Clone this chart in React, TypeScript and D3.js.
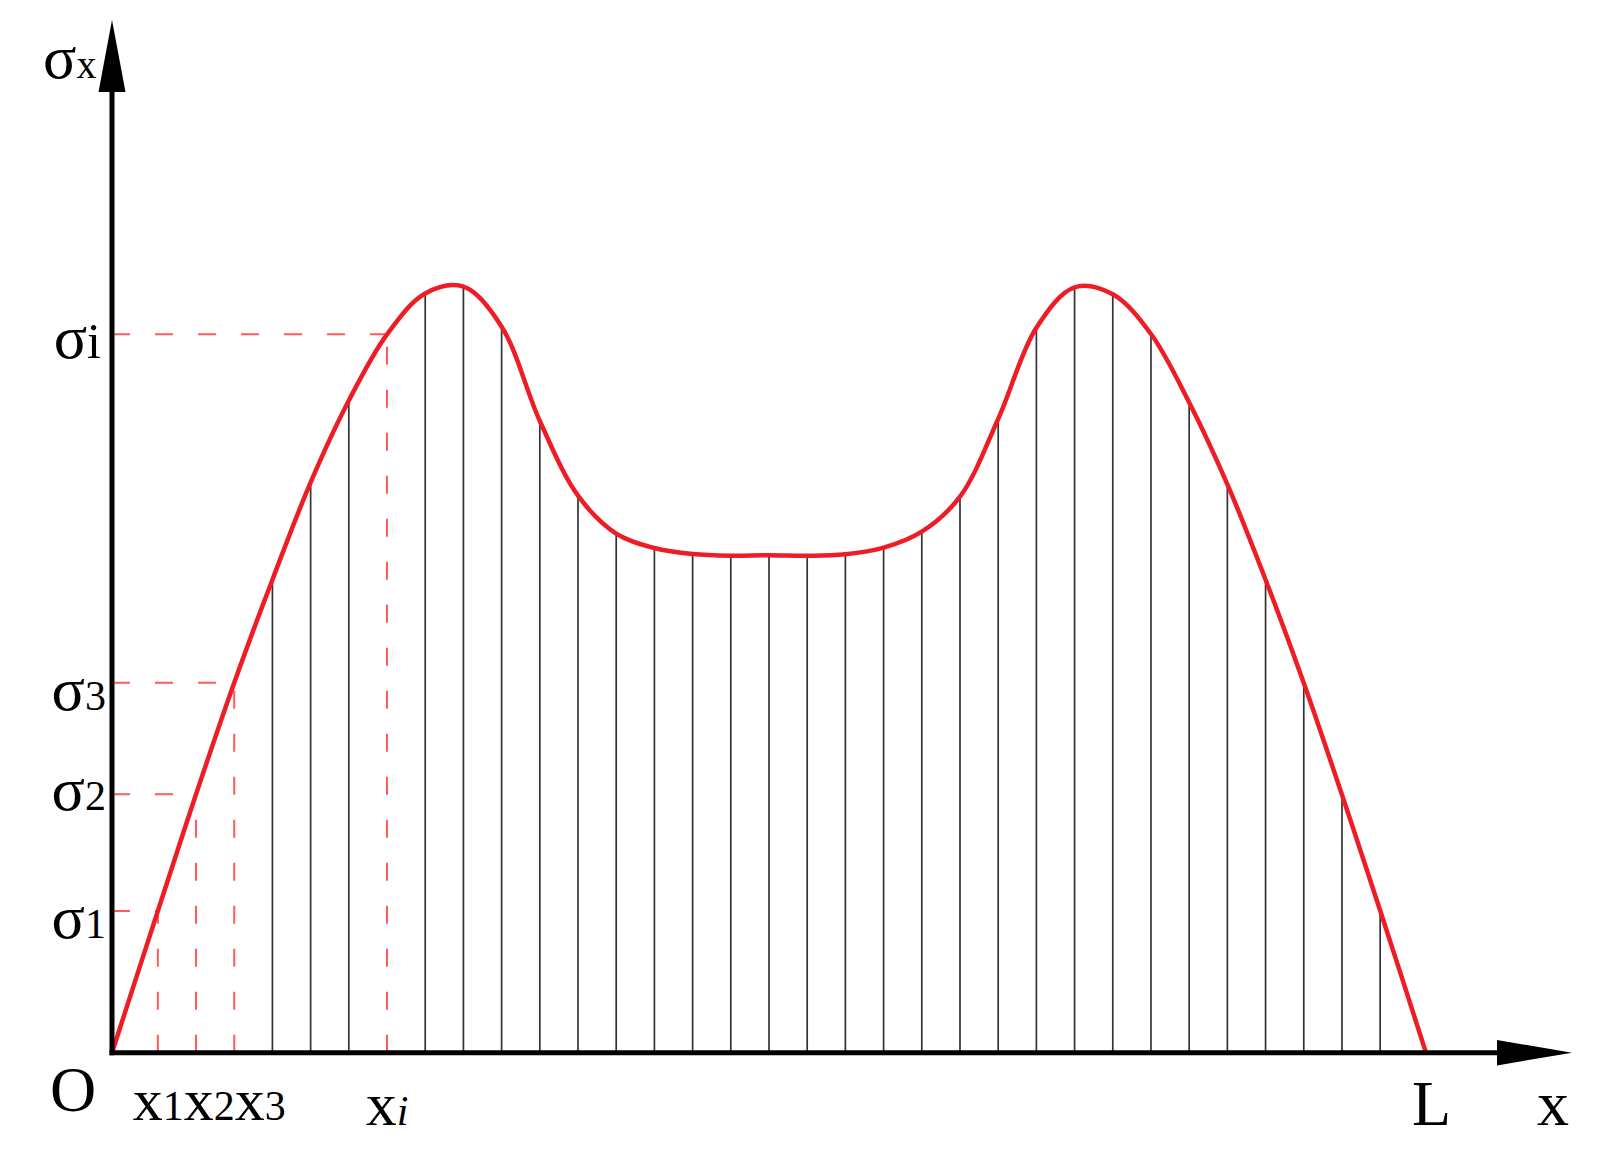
import React from 'react';
import * as d3 from 'd3';

// Domain: x in units of the division spacing, 0 = O, L = end of beam
const L = 34.4;
const stations = [
  1.2, 2.2, 3.2, 4.2, 5.2, 6.2, 7.2, 8.2, 9.2, 10.2, 11.2, 12.2, 13.2, 14.2, 15.2, 16.2, 17.2,
  18.2, 19.2, 20.2, 21.2, 22.2, 23.2, 24.2, 25.2, 26.2, 27.2, 28.2, 29.2, 30.2, 31.2, 32.2, 33.2,
];
const stressValues = [
  14.17, 25.84, 37.0, 47.3, 57.03, 65.22, 71.84, 75.92, 76.6, 72.6, 63.17, 55.7, 51.91, 50.47,
  49.87, 49.7, 49.75, 49.7, 49.84, 50.5, 52.1, 55.6, 63.37, 72.5, 76.54, 75.84, 71.87, 65.02,
  56.83, 47.3, 36.97, 25.79, 14.22,
];
// marked stations (index into stations) and their subscripts
const markedIndex = [0, 1, 2, 6];
const markedSubs = ['1', '2', '3', 'i'];
const yMax = 103.27;

const W = 1606;
const H = 1163;
const FONT = '"Liberation Serif", "Times New Roman", serif';
const RED = '#ee1c25';
const DASH_RED = '#ff5a5a';

// small nudges for the σ labels
const sigmaLabelDy = [27, 16, 27, 24];
const sigmaLabelDx = [0, 0, 0, -5];
const sigmaSubSize = [42, 42, 42, 50];

export default function App() {
  const x = d3.scaleLinear().domain([0, L]).range([112, 1426]);
  const y = d3.scaleLinear().domain([0, yMax]).range([1052.7, 20]);

  const pts: [number, number][] = [[0, 0], ...stations.map((s, i) => [s, stressValues[i]] as [number, number]), [L, 0]];
  const line = d3
    .line<[number, number]>()
    .x((d) => x(d[0]))
    .y((d) => y(d[1]))
    .curve(d3.curveCatmullRom.alpha(0.5));

  const x0 = x(0);
  const y0 = y(0);
  const axisEndX = 1497;
  const axisTopY = 92;

  const blackIdx = stations.map((_, i) => i).filter((i) => !markedIndex.includes(i));

  return (
    <svg
      width={W}
      height={H}
      viewBox={`0 0 ${W} ${H}`}
      style={{ position: 'absolute', left: 0, top: 0, background: '#fff' }}
    >
      <rect x={0} y={0} width={W} height={H} fill="#fff" />
      {/* division lines */}
      {blackIdx.map((i) => (
        <line
          key={'v' + i}
          x1={x(stations[i])}
          x2={x(stations[i])}
          y1={y0}
          y2={y(stressValues[i])}
          stroke="#333"
          strokeWidth={1.7}
        />
      ))}
      {/* red dashed guides */}
      {markedIndex.map((i) => (
        <g key={'d' + i}>
          <line
            x1={x(stations[i])}
            x2={x(stations[i])}
            y1={y0}
            y2={y(stressValues[i])}
            stroke={DASH_RED}
            strokeWidth={2}
            strokeDasharray="18 25"
          />
          <line
            x1={x0}
            x2={x(stations[i])}
            y1={y(stressValues[i])}
            y2={y(stressValues[i])}
            stroke={DASH_RED}
            strokeWidth={2}
            strokeDasharray="18 25"
          />
        </g>
      ))}
      {/* curve */}
      <path d={line(pts) || ''} fill="none" stroke={RED} strokeWidth={4.5} strokeLinejoin="round" />
      {/* axes */}
      <line x1={x0} x2={x0} y1={y0 + 2.5} y2={axisTopY} stroke="#000" strokeWidth={5} />
      <line x1={x0 - 2.5} x2={axisEndX} y1={y0} y2={y0} stroke="#000" strokeWidth={5} />
      <path d={`M${x0},20 L${x0 - 13.5},${axisTopY} L${x0 + 13.5},${axisTopY} Z`} fill="#000" />
      <path d={`M1572,${y0} L${axisEndX},${y0 - 12.7} L${axisEndX},${y0 + 12.7} Z`} fill="#000" />
      {/* labels */}
      <text x={43} y={78} fontFamily={FONT} fill="#000">
        <tspan fontSize={62}>σ</tspan>
        <tspan fontSize={40}>x</tspan>
      </text>
      {markedIndex.map((i, k) => (
        <text
          key={'yl' + k}
          x={106 + sigmaLabelDx[k]}
          y={y(stressValues[i]) + sigmaLabelDy[k]}
          textAnchor="end"
          fontFamily={FONT}
          fill="#000"
        >
          <tspan fontSize={62}>σ</tspan>
          <tspan fontSize={sigmaSubSize[k]}>{markedSubs[k]}</tspan>
        </text>
      ))}
      <text x={50} y={1111} fontFamily={FONT} fontSize={64} fill="#000">
        O
      </text>
      <text x={x(stations[markedIndex[0]]) - 25} y={1120} fontFamily={FONT} fill="#000">
        {markedIndex.slice(0, 3).map((_, k) => (
          <React.Fragment key={'xl' + k}>
            <tspan fontSize={60}>x</tspan>
            <tspan fontSize={42}>{markedSubs[k]}</tspan>
          </React.Fragment>
        ))}
      </text>
      <text x={x(stations[markedIndex[3]])} y={1125} textAnchor="middle" fontFamily={FONT} fill="#000">
        <tspan fontSize={62}>x</tspan>
        <tspan fontSize={42} fontStyle="italic">
          {markedSubs[3]}
        </tspan>
      </text>
      <text x={x(L) - 14} y={1125} fontFamily={FONT} fontSize={64} fill="#000">
        L
      </text>
      <text x={1537} y={1125} fontFamily={FONT} fontSize={64} fill="#000">
        x
      </text>
    </svg>
  );
}
